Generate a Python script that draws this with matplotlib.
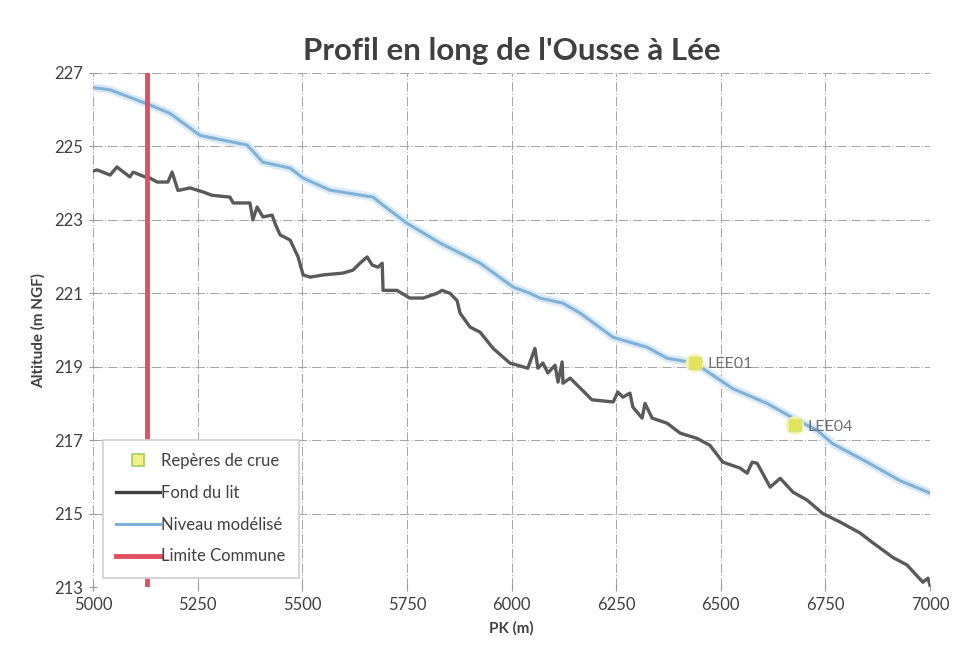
import matplotlib
matplotlib.use("Agg")
import matplotlib.pyplot as plt
from matplotlib.lines import Line2D

# ---- data ----
bed_pk = [5000, 5010, 5041, 5057, 5088, 5096, 5124, 5136, 5153, 5179, 5189, 5203, 5232, 5263, 5284,
          5327, 5335, 5375, 5382, 5392, 5406, 5428, 5435, 5447, 5471, 5490, 5502, 5519, 5550, 5597,
          5621, 5638, 5655, 5667, 5681, 5691, 5693, 5726, 5757, 5789, 5822, 5834, 5853, 5870, 5877,
          5901, 5925, 5956, 5996, 6039, 6056, 6063, 6075, 6087, 6104, 6111, 6121, 6123, 6140, 6164,
          6192, 6243, 6254, 6266, 6283, 6290, 6312, 6319, 6336, 6372, 6403, 6443, 6474, 6505, 6546,
          6563, 6575, 6587, 6618, 6642, 6673, 6706, 6744, 6785, 6833, 6864, 6912, 6945, 6983, 6995, 7000]
bed_alt = [224.33, 224.36, 224.22, 224.44, 224.17, 224.30, 224.17, 224.14, 224.03, 224.03, 224.30, 223.80,
           223.87, 223.76, 223.67, 223.62, 223.46, 223.46, 223.00, 223.35, 223.08, 223.13, 222.90, 222.59,
           222.45, 221.99, 221.50, 221.44, 221.50, 221.55, 221.63, 221.82, 221.99, 221.77, 221.71, 221.82,
           221.08, 221.08, 220.87, 220.87, 221.00, 221.08, 221.00, 220.80, 220.46, 220.08, 219.94, 219.50,
           219.10, 218.96, 219.50, 218.96, 219.10, 218.83, 219.04, 218.58, 219.13, 218.55, 218.69, 218.42,
           218.10, 218.04, 218.31, 218.17, 218.28, 217.90, 217.60, 218.00, 217.60, 217.46, 217.19, 217.05,
           216.86, 216.40, 216.24, 216.10, 216.40, 216.37, 215.72, 215.96, 215.58, 215.37, 215.00, 214.77,
           214.47, 214.20, 213.80, 213.60, 213.13, 213.24, 213.05]

water_pk = [5000, 5010, 5041, 5136, 5184, 5256, 5311, 5368, 5406, 5471, 5502, 5566, 5669, 5693, 5750,
            5829, 5925, 6004, 6044, 6068, 6123, 6164, 6243, 6324, 6372, 6438, 6529, 6611, 6673, 6730,
            6768, 6850, 6928, 7000]
water_alt = [226.60, 226.59, 226.54, 226.13, 225.90, 225.30, 225.17, 225.04, 224.57, 224.41, 224.14,
             223.81, 223.62, 223.40, 222.91, 222.37, 221.82, 221.17, 221.00, 220.87, 220.73, 220.46,
             219.80, 219.53, 219.23, 219.10, 218.40, 218.00, 217.60, 217.27, 216.90, 216.40, 215.90, 215.56]

marker_names = ["LEE01", "LEE04"]
marker_pk = [6438, 6677]
marker_alt = [219.10, 217.40]

limit_pk = 5130

x_ticks = [5000, 5250, 5500, 5750, 6000, 6250, 6500, 6750, 7000]
y_ticks = [213, 215, 217, 219, 221, 223, 225, 227]

# ---- figure ----
plt.rcParams['font.family'] = ['Lato', 'DejaVu Sans']
fig = plt.figure(figsize=(9.57, 6.5), dpi=100)
ax = fig.add_axes([0.0972, 0.0969, 0.8746, 0.7908])

txt = '#404040'
ax.set_xlim(5000, 7000)
ax.set_ylim(213, 227)
ax.set_xticks(x_ticks)
ax.set_yticks(y_ticks)
ax.grid(True, color='#a6a6a6', linestyle=(0, (9, 2, 1, 2)), linewidth=0.75)
ax.set_axisbelow(True)
for s in ax.spines.values():
    s.set_visible(False)
ax.tick_params(direction='inout', length=6, width=0.8, color='#999999',
               labelcolor=txt, labelsize=12, pad=4)

ax.plot(bed_pk, bed_alt, color='#5a5a5a', lw=2.4, zorder=3, label='Fond du lit')
ax.plot(water_pk, water_alt, color='#dbeaf5', lw=6, zorder=3, solid_capstyle='round')
ax.plot(water_pk, water_alt, color='#7eb2d8', lw=2.2, zorder=3, label='Niveau modélisé')
ax.axvline(limit_pk, color='#e05060', lw=3.5, zorder=4, label='Limite Commune')
ax.scatter(marker_pk, marker_alt, s=180, marker='o', color='#f4f4b0', edgecolors='none', zorder=5)
ax.scatter(marker_pk, marker_alt, s=70, marker='s', color='#e4e45a', edgecolors='#d6e27a',
           linewidths=1, zorder=6, label='Repères de crue')
for n, xp, yp in zip(marker_names, marker_pk, marker_alt):
    ax.annotate(n, (xp, yp), xytext=(9, -1), textcoords='offset points', va='center', ha='left',
                color='#707070', fontsize=11.5, zorder=7)

ax.set_title("Profil en long de l'Ousse à Lée", fontsize=22.5, fontweight='bold', color=txt, pad=9)
ax.set_ylabel("Altitude (m NGF)", fontsize=11, fontweight='bold', color=txt, labelpad=6)
ax.set_xlabel("PK (m)", fontsize=11, fontweight='bold', color=txt, labelpad=6)

handles = [
    Line2D([], [], marker='s', linestyle='none', markersize=8, markerfacecolor='#f0f08a',
           markeredgecolor='#9fd060', markeredgewidth=1.2),
    Line2D([], [], color='#404040', lw=2.4),
    Line2D([], [], color='#7eb2d8', lw=2.2),
    Line2D([], [], color='#e05060', lw=3.5),
]
labels = ['Repères de crue', 'Fond du lit', 'Niveau modélisé', 'Limite Commune']
leg = ax.legend(handles, labels, loc='lower left', bbox_to_anchor=(0.012, 0.018),
                frameon=True, fancybox=False, shadow=False, fontsize=12, labelcolor=txt,
                handlelength=2.6, handletextpad=0.1, labelspacing=0.95, borderpad=0.8,
                borderaxespad=0, framealpha=1.0)
leg.get_frame().set_edgecolor('#d0d0d0')
leg.get_frame().set_linewidth(1.2)
leg.set_zorder(10)

fig.savefig('out.png', dpi=100, facecolor='white')
